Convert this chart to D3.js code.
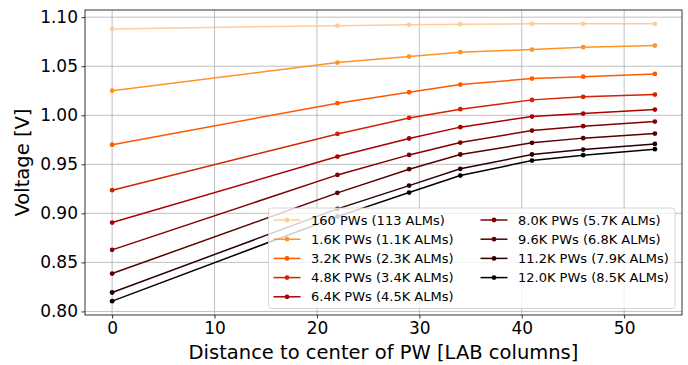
<!DOCTYPE html>
<html>
<head>
<meta charset="utf-8">
<script src="https://cdn.jsdelivr.net/npm/d3@7"></script>
<style>
  body { margin: 0; background: #fff; }
  svg { font-family: "DejaVu Sans", sans-serif; }
</style>
</head>
<body>
<div class="chart"></div>
<script>
const distances = [0, 22, 29, 34, 41, 46, 53];
const seriesNames = [
  '160 PWs (113 ALMs)',
  '1.6K PWs (1.1K ALMs)',
  '3.2K PWs (2.3K ALMs)',
  '4.8K PWs (3.4K ALMs)',
  '6.4K PWs (4.5K ALMs)',
  '8.0K PWs (5.7K ALMs)',
  '9.6K PWs (6.8K ALMs)',
  '11.2K PWs (7.9K ALMs)',
  '12.0K PWs (8.5K ALMs)'
];
const v160 = [1.088, 1.0914, 1.0922, 1.0929, 1.0932, 1.0932, 1.0932];
const v1600 = [1.025, 1.0537, 1.0598, 1.0643, 1.0670, 1.0694, 1.0711];
const v3200 = [0.970, 1.0123, 1.0235, 1.0313, 1.0374, 1.0394, 1.0422];
const v4800 = [0.9236, 0.9810, 0.9973, 1.0062, 1.0157, 1.0188, 1.0211];
const v6400 = [0.8906, 0.9579, 0.9763, 0.9879, 0.9987, 1.0017, 1.0058];
const v8000 = [0.8628, 0.9392, 0.9596, 0.9722, 0.9844, 0.9889, 0.9936];
const v9600 = [0.8386, 0.9209, 0.9450, 0.9600, 0.9719, 0.9767, 0.9813];
const v11200 = [0.8193, 0.9046, 0.9283, 0.9454, 0.9600, 0.9650, 0.9708];
const v12000 = [0.8105, 0.8967, 0.9212, 0.9385, 0.9538, 0.9593, 0.9654];
const voltages = [v160, v1600, v3200, v4800, v6400, v8000, v9600, v11200, v12000];
const xTicks = [0, 10, 20, 30, 40, 50];
const yTicks = [0.80, 0.85, 0.90, 0.95, 1.00, 1.05, 1.10];

// gist_heat style colour: light peach down to black
function heat(t) {
  let r = Math.min(1, 1.5 * t), g = Math.max(0, 2 * t - 1), b = Math.max(0, 4 * t - 3);
  return d3.rgb(r * 255, g * 255, b * 255).formatHex();
}
const colors = seriesNames.map((d, i) => heat(0.9 - i * 0.9 / (seriesNames.length - 1)));

let width = 688, height = 365;
let margin = { top: 10, right: 6, bottom: 50, left: 85 };

let svg = d3.select('.chart').append('svg')
  .attr('width', width).attr('height', height);

// matplotlib-like 5% padding on both axes
let xMin = d3.min(distances), xMax = d3.max(distances);
let xPad = (xMax - xMin) * 0.05;
let allV = voltages.flat();
let yMin = d3.min(allV), yMax = d3.max(allV);
let yPad = (yMax - yMin) * 0.05;

let x = d3.scaleLinear().domain([xMin - xPad, xMax + xPad]).range([margin.left, width - margin.right]);
let y = d3.scaleLinear().domain([yMin - yPad, yMax + yPad]).range([height - margin.bottom, margin.top]);

// grid
svg.append('g').selectAll('line').data(xTicks).enter().append('line')
  .attr('x1', d => x(d)).attr('x2', d => x(d))
  .attr('y1', margin.top).attr('y2', height - margin.bottom)
  .attr('stroke', '#b0b0b0').attr('stroke-width', 0.8);
svg.append('g').selectAll('line').data(yTicks).enter().append('line')
  .attr('y1', d => y(d)).attr('y2', d => y(d))
  .attr('x1', margin.left).attr('x2', width - margin.right)
  .attr('stroke', '#b0b0b0').attr('stroke-width', 0.8);

// series
let line = d3.line().x((d, i) => x(distances[i])).y(d => y(d));
voltages.forEach((vals, k) => {
  let g = svg.append('g');
  g.append('path').datum(vals)
    .attr('d', line).attr('fill', 'none')
    .attr('stroke', colors[k]).attr('stroke-width', 1.5);
  g.selectAll('circle').data(vals).enter().append('circle')
    .attr('cx', (d, i) => x(distances[i])).attr('cy', d => y(d))
    .attr('r', 2.4).attr('fill', colors[k]);
});

// axes
let xAxis = svg.append('g')
  .attr('transform', `translate(0,${height - margin.bottom})`)
  .call(d3.axisBottom(x).tickValues(xTicks).tickSize(3.5).tickPadding(3.5).tickFormat(d3.format('d')));
let yAxis = svg.append('g')
  .attr('transform', `translate(${margin.left},0)`)
  .call(d3.axisLeft(y).tickValues(yTicks).tickSize(3.5).tickPadding(3.5).tickFormat(d3.format('.2f')));
[xAxis, yAxis].forEach(a => {
  a.select('.domain').remove();
  a.selectAll('text').attr('font-size', 17).attr('fill', '#000').attr('font-family', '"DejaVu Sans", sans-serif');
  a.selectAll('line').attr('stroke', '#000').attr('stroke-width', 0.8);
});

// frame
svg.append('rect')
  .attr('x', margin.left).attr('y', margin.top)
  .attr('width', width - margin.left - margin.right)
  .attr('height', height - margin.top - margin.bottom)
  .attr('fill', 'none').attr('stroke', '#000').attr('stroke-width', 0.8);

// axis labels
svg.append('text')
  .attr('x', (margin.left + width - margin.right) / 2).attr('y', 359)
  .attr('text-anchor', 'middle').attr('font-size', 19.5)
  .text('Distance to center of PW [LAB columns]');
svg.append('text')
  .attr('transform', `translate(29,${(margin.top + height - margin.bottom) / 2}) rotate(-90)`)
  .attr('text-anchor', 'middle').attr('font-size', 19.5)
  .text('Voltage [V]');

// legend
let legend = svg.append('g');
legend.append('rect')
  .attr('x', 268.5).attr('y', 208).attr('width', 406.5).attr('height', 100.5)
  .attr('rx', 3).attr('fill', 'white').attr('fill-opacity', 0.8)
  .attr('stroke', '#cccccc').attr('stroke-width', 0.8);
let rows = 5, rowH = 19.2;
let items = legend.selectAll('g.item').data(seriesNames).enter().append('g')
  .attr('class', 'item')
  .attr('transform', (d, i) => `translate(${i < rows ? 273.5 : 480.5},${220 + (i % rows) * rowH})`);
items.append('line')
  .attr('x1', 0).attr('x2', 27).attr('y1', 0).attr('y2', 0)
  .attr('stroke', (d, i) => colors[i]).attr('stroke-width', 1.5);
items.append('circle')
  .attr('cx', 13.5).attr('cy', 0).attr('r', 2.4)
  .attr('fill', (d, i) => colors[i]);
items.append('text')
  .attr('x', 37.5).attr('y', 0).attr('dy', '0.36em')
  .attr('font-size', 13).text(d => d);
</script>
</body>
</html>
